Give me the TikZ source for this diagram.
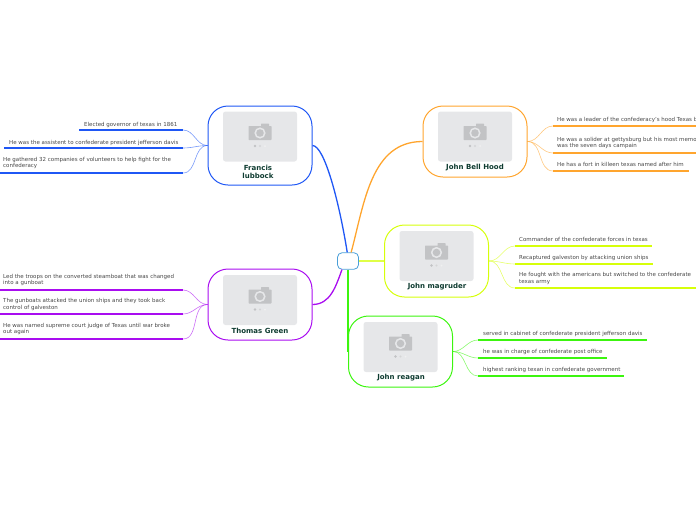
\documentclass[tikz,border=0pt]{standalone}
\usepackage{fontspec}
\setmainfont{DejaVu Sans}
\usetikzlibrary{positioning}
\definecolor{lubbockblue}{HTML}{1F57F5}
\definecolor{greenpurple}{HTML}{A90DF0}
\definecolor{hoodorange}{HTML}{FFA52E}
\definecolor{magyellow}{HTML}{D6FF0A}
\definecolor{reaganlime}{HTML}{3CF50F}
\definecolor{hubblue}{HTML}{4A9FD8}
\definecolor{labelgreen}{HTML}{0E3B30}
\definecolor{photogrey}{HTML}{E6E7E9}
\definecolor{cameragrey}{HTML}{C2C3C5}
\tikzset{
  topicbox/.style={draw,line width=1pt,rounded corners=20pt,minimum width=104pt},
  photobox/.style={fill=photogrey,rounded corners=2.5pt,minimum width=74pt,minimum height=50pt,inner sep=0pt},
  toplabel/.style={font=\fontsize{7}{8.2}\selectfont\bfseries,text=labelgreen,align=center,inner sep=0pt},
  leaftext/.style={font=\fontsize{5.5}{6.7}\selectfont,text=black!72,align=left,anchor=west,inner sep=0pt},
  leafline/.style={line width=1.2pt},
  twig/.style={line width=0.6pt,opacity=0.6},
  branch/.style={line width=1.3pt},
  photo/.pic={
    \fill[cameragrey,rounded corners=0.6pt] (-11.5,-10.5) rectangle (11.5,3.5);
    \fill[cameragrey,rounded corners=0.6pt] (1,-13) rectangle (9,-9);
    \fill[photogrey] (0,-3.5) circle (5.6);
    \fill[cameragrey] (0,-3.5) circle (3.8);
    \fill[cameragrey] (-5,9.5) circle (1.4);
    \fill[cameragrey!70] (0,9.5) circle (1.2);
    \fill[cameragrey!25] (5,9.5) circle (1);
  }
}
\begin{document}
\begin{tikzpicture}[x=1pt,y=-1pt]
  \useasboundingbox (0,0) rectangle (696,520);
  % hub and topics
  \node[draw=hubblue,line width=0.8pt,rounded corners=4.5pt,minimum width=21pt,minimum height=16.5pt,inner sep=0pt] (hub) at (348,261) {};
  \node[topicbox,draw=lubbockblue,minimum height=79pt] (lubbock) at (260,145.5) {};
  \node[topicbox,draw=greenpurple,minimum height=71pt] (green) at (260,304.5) {};
  \node[topicbox,draw=hoodorange,minimum height=71pt] (hood) at (475,141.5) {};
  \node[topicbox,draw=magyellow,minimum height=72pt] (magruder) at (436.5,261) {};
  \node[topicbox,draw=reaganlime,minimum height=71pt] (reagan) at (400.5,351.5) {};
  % pictures
  \node[photobox] (lubbockphoto) at (260,136.5) {};
  \node[photobox] (greenphoto) at (260,300) {};
  \node[photobox] (hoodphoto) at (475,136.5) {};
  \node[photobox] (magruderphoto) at (436.5,256) {};
  \node[photobox] (reaganphoto) at (400.5,347) {};
  \foreach \p in {lubbockphoto,greenphoto,hoodphoto,magruderphoto,reaganphoto}
    \pic at (\p) {photo};
  \node[toplabel] (lubbocklabel) at (258,172) {Francis\\lubbock};
  \node[toplabel] (greenlabel) at (260,330.5) {Thomas Green};
  \node[toplabel] (hoodlabel) at (475,168) {John Bell Hood};
  \node[toplabel] (magruderlabel) at (437,286.5) {John magruder};
  \node[toplabel] (reaganlabel) at (401,377.5) {John reagan};
  % branches
  \draw[branch,lubbockblue] (lubbock.east) .. controls +(12,0) and +(-8,-50) .. (hub.95);
  \draw[branch,hoodorange] (hub.70) to[out=75,in=180] (hood.west);
  \draw[branch,magyellow!75] (hub.east) -- (magruder.west);
  \draw[branch,greenpurple] (hub.235) to[out=250,in=0] (green.east);
  \draw[branch,reaganlime] (hub.south) -- (reagan.west);
  % leaves on the left
  \foreach \id/\xa/\y in {a/79/130,b/4/148,c/-1/173} {
    \coordinate (lubbock\id) at (183,\y);
    \coordinate (lubbockend\id) at (\xa,\y);
    \draw[leafline,lubbockblue] (lubbockend\id) -- (lubbock\id);
    \draw[twig,lubbockblue] (lubbock.west) to[out=180,in=0] (lubbock\id);
  }
  \foreach \id/\y in {a/290,b/314,c/339} {
    \coordinate (green\id) at (183,\y);
    \coordinate (greenend\id) at (-1,\y);
    \draw[leafline,greenpurple] (greenend\id) -- (green\id);
    \draw[twig,greenpurple] (green.west) to[out=180,in=0] (green\id);
  }
  % leaves on the right
  \foreach \id/\xb/\y in {a/697/126,b/697/153,c/689/171} {
    \coordinate (hood\id) at (553,\y);
    \coordinate (hoodend\id) at (\xb,\y);
    \draw[leafline,hoodorange] (hood\id) -- (hoodend\id);
    \draw[twig,hoodorange] (hood.east) to[out=0,in=180] (hood\id);
  }
  \foreach \id/\xb/\y in {a/652/246,b/653/264,c/697/288} {
    \coordinate (magruder\id) at (515,\y);
    \coordinate (magruderend\id) at (\xb,\y);
    \draw[leafline,magyellow] (magruder\id) -- (magruderend\id);
    \draw[twig,magyellow] (magruder.east) to[out=0,in=180] (magruder\id);
  }
  \foreach \id/\xb/\y in {a/647/340,b/607/358,c/624/376} {
    \coordinate (reagan\id) at (478,\y);
    \coordinate (reaganend\id) at (\xb,\y);
    \draw[leafline,reaganlime] (reagan\id) -- (reaganend\id);
    \draw[twig,reaganlime] (reagan.east) to[out=0,in=180] (reagan\id);
  }
  % texts
  \node[leaftext] (lubbocktexta) at (84,124.5) {Elected governor of texas in 1861};
  \node[leaftext] (lubbocktextb) at (9,142.5) {He was the assistent to confederate president jefferson davis};
  \node[leaftext] (lubbocktextc) at (3,163) {He gathered 32 companies of volunteers to help fight for the\\confederacy};
  \node[leaftext] (greentexta) at (3,280) {Led the troops on the converted steamboat that was changed\\into a gunboat};
  \node[leaftext] (greentextb) at (3,304.5) {The gunboats attacked the union ships and they took back\\control of galveston};
  \node[leaftext] (greentextc) at (3,329) {He was named supreme court judge of Texas until war broke\\out again};
  \node[leaftext] (hoodtexta) at (557,120) {He was a leader of the confederacy's hood Texas b};
  \node[leaftext] (hoodtextb) at (557,143) {He was a solider at gettysburg but his most memo\\was the seven days campain};
  \node[leaftext] (hoodtextc) at (557,164) {He has a fort in killeen texas named after him};
  \node[leaftext] (magrudertexta) at (519,239.5) {Commander of the confederate forces in texas};
  \node[leaftext] (magrudertextb) at (519,257.5) {Recaptured galveston by attacking union ships};
  \node[leaftext] (magrudertextc) at (519,278.5) {He fought with the americans but switched to the confederate\\texas army};
  \node[leaftext] (reagantexta) at (483,334) {served in cabinet of confederate president jefferson davis};
  \node[leaftext] (reagantextb) at (483,352) {he was in charge of confederate post office};
  \node[leaftext] (reagantextc) at (483,370) {highest ranking texan in confederate government};
\end{tikzpicture}
\end{document}
